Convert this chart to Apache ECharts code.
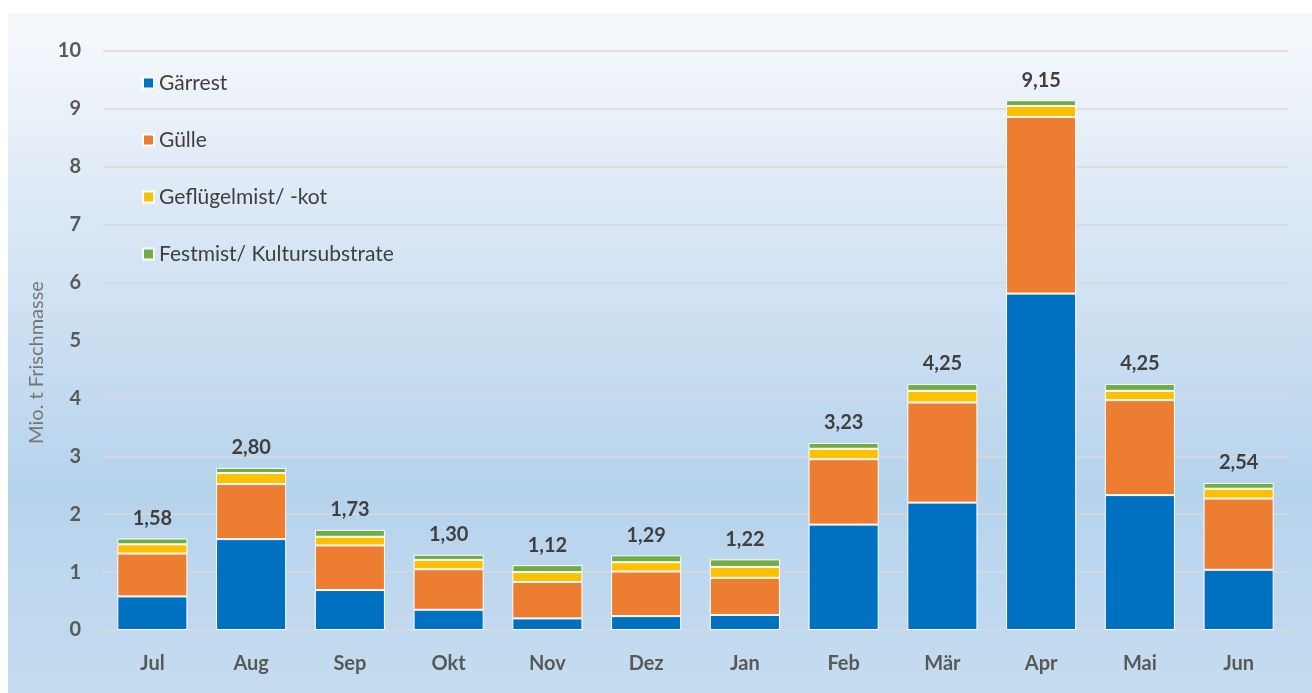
<!DOCTYPE html>
<html>
<head>
<meta charset="utf-8">
<script src="https://cdn.jsdelivr.net/npm/echarts@6/dist/echarts.min.js"></script>
<style>
html,body{margin:0;padding:0;background:#fff;}
#c{width:1312px;height:693px;}
</style>
</head>
<body>
<div id="c"></div>
<script>
const categories = ['Jul','Aug','Sep','Okt','Nov','Dez','Jan','Feb','Mär','Apr','Mai','Jun'];
const gaerrest   = [0.58, 1.57, 0.69, 0.35, 0.20, 0.24, 0.26, 1.82, 2.20, 5.81, 2.33, 1.04];
const guelle     = [0.74, 0.95, 0.77, 0.70, 0.63, 0.77, 0.64, 1.13, 1.73, 3.05, 1.64, 1.23];
const gefluegel  = [0.16, 0.19, 0.15, 0.16, 0.17, 0.16, 0.19, 0.18, 0.20, 0.19, 0.16, 0.17];
const festmist   = [0.10, 0.09, 0.12, 0.09, 0.12, 0.12, 0.13, 0.10, 0.12, 0.10, 0.12, 0.10];
const totals     = [1.58, 2.80, 1.73, 1.30, 1.12, 1.29, 1.22, 3.23, 4.25, 9.15, 4.25, 2.54];
const yTicks     = [0, 1, 2, 3, 4, 5, 6, 7, 8, 9, 10];
const seriesNames = ['Gärrest', 'Gülle', 'Geflügelmist/ -kot', 'Festmist/ Kultursubstrate'];

const FONT = 'Lato, "Open Sans", sans-serif';
const chart = echarts.init(document.getElementById('c'), null, {renderer: 'canvas'});

function mk(name, data, color, isTop) {
  const s = {
    name: name,
    type: 'bar',
    stack: 'total',
    data: data,
    barWidth: '71%',
    itemStyle: {color: color, borderColor: '#ffffff', borderWidth: 1},
    emphasis: {disabled: true}
  };
  if (isTop) {
    s.label = {
      show: true,
      position: 'top',
      distance: 10,
      fontFamily: FONT,
      fontSize: 20,
      fontWeight: 'bold',
      color: '#404040',
      formatter: p => totals[p.dataIndex].toFixed(2).replace('.', ',')
    };
  }
  return s;
}

chart.setOption({
  animation: false,
  backgroundColor: '#ffffff',
  graphic: [{
    type: 'rect',
    z: -10,
    silent: true,
    shape: {x: 8, y: 13, width: 1304, height: 680},
    style: {
      fill: new echarts.graphic.LinearGradient(0, 0, 0, 1, [
        {offset: 0, color: '#f7f9fc'},
        {offset: 0.35, color: '#d6e5f4'},
        {offset: 0.7, color: '#b6d3ec'},
        {offset: 1, color: '#c6dcf0'}
      ])
    }
  }],
  color: ['#0070C0', '#ED7D31', '#FFC000', '#70AD47'],
  legend: {
    orient: 'vertical',
    left: 137,
    top: 67,
    itemWidth: 11,
    itemHeight: 11,
    itemGap: 35,
    icon: 'rect',
    data: seriesNames,
    textStyle: {fontFamily: FONT, fontSize: 21, color: '#404040', lineHeight: 22}
  },
  grid: {left: 103, right: 24, top: 51, bottom: 63, containLabel: false},
  xAxis: {
    type: 'category',
    data: categories,
    axisLine: {show: false},
    axisTick: {show: false},
    axisLabel: {fontFamily: FONT, fontSize: 20, fontWeight: 'bold', color: '#595959', margin: 24}
  },
  yAxis: {
    type: 'value',
    min: 0,
    max: 10,
    interval: 1,
    name: 'Mio. t Frischmasse',
    nameLocation: 'middle',
    nameGap: 54,
    nameTextStyle: {fontFamily: FONT, fontSize: 20, color: '#767676', padding: [0, 44, 0, 0]},
    axisLine: {show: false},
    axisTick: {show: false},
    splitLine: {lineStyle: {color: '#d9d9d9', width: 1.5}},
    axisLabel: {
      fontFamily: FONT, fontSize: 20, fontWeight: 'bold', color: '#595959', margin: 22,
      formatter: v => yTicks.indexOf(v) >= 0 ? String(v) : ''
    }
  },
  series: [
    mk(seriesNames[0], gaerrest, '#0070C0', false),
    mk(seriesNames[1], guelle, '#ED7D31', false),
    mk(seriesNames[2], gefluegel, '#FFC000', false),
    mk(seriesNames[3], festmist, '#70AD47', true)
  ]
});
</script>
</body>
</html>
